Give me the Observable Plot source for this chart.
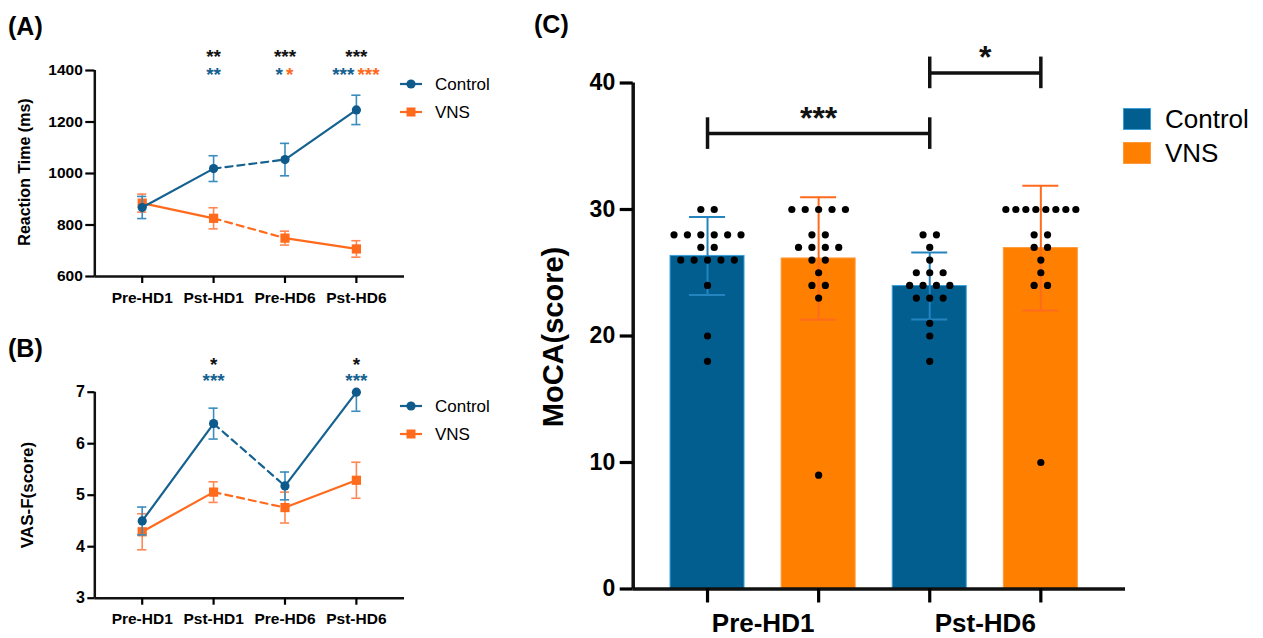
<!DOCTYPE html>
<html>
<head>
<meta charset="utf-8">
<script src="https://cdn.jsdelivr.net/npm/d3@7"></script>
<script src="https://cdn.jsdelivr.net/npm/@observablehq/plot@0.6"></script>
<style>
  html, body { margin: 0; padding: 0; background: #fff; }
  #root { position: relative; width: 1263px; height: 638px; overflow: hidden; background: #fff;
          font-family: "Liberation Sans", Arial, Helvetica, sans-serif; color: #000; }
  #root svg { overflow: visible; }
</style>
</head>
<body>
<div id="root"></div>
<script>
// ---------------- data ----------------
const timepoints = ["Pre-HD1", "Pst-HD1", "Pre-HD6", "Pst-HD6"];
const groups = ["Control", "VNS"];

// (A) Reaction time (ms), mean and error
const rtControl = [868, 1019, 1054, 1247];
const rtControlErr = [43, 50, 63, 57];
const rtVNS = [885, 826, 749, 707];
const rtVNSErr = [35, 41, 27, 32];
const rtTicks = [600, 800, 1000, 1200, 1400];
const rtStarsAll = ["", "**", "***", "***"];
const rtStarsControl = ["", "**", "*", "***"];
const rtStarsVNS = ["", "", "*", "***"];

// (B) VAS-F score, mean and error
const vasControl = [4.50, 6.39, 5.18, 7.00];
const vasControlErr = [0.27, 0.30, 0.27, 0.37];
const vasVNS = [4.29, 5.06, 4.76, 5.29];
const vasVNSErr = [0.35, 0.20, 0.30, 0.35];
const vasTicks = [3, 4, 5, 6, 7];
const vasStarsAll = ["", "*", "", "*"];
const vasStarsControl = ["", "***", "", "***"];
const vasStarsVNS = ["", "", "", ""];

// (C) MoCA score
const mocaTimepoints = ["Pre-HD1", "Pst-HD6"];
const mocaBarGroup = ["Control", "VNS", "Control", "VNS"];
const mocaMean = [26.33, 26.13, 23.95, 26.95];
const mocaSD = [3.08, 4.84, 2.65, 4.93];
const mocaPreControl = [30, 30, 28, 28, 28, 28, 28, 28, 27, 27, 26, 26, 26, 26, 26, 24, 20, 18];
const mocaPreVNS = [30, 30, 30, 30, 30, 28, 28, 27, 27, 27, 27, 26, 26, 25, 24, 24, 23, 9];
const mocaPstControl = [28, 28, 27, 26, 25, 25, 25, 24, 24, 24, 24, 23, 23, 23, 21, 20, 18];
const mocaPstVNS = [30, 30, 30, 30, 30, 30, 30, 30, 28, 28, 27, 27, 26, 25, 24, 24, 10];
const mocaTicks = [0, 10, 20, 30, 40];
const bracketFrom = [0, 2];
const bracketTo = [2, 3];
const bracketLevel = [36, 40.8];
const bracketLabel = ["***", "*"];

// ---------------- styles ----------------
const FONT = '"Liberation Sans", Arial, Helvetica, sans-serif';
const lineColor = { Control: "#15618f", VNS: "#ff6a1c" };
const markColor = { Control: "#0d5a8b", VNS: "#ff6a1c" };
const errColor = { Control: "#3b8dbd", VNS: "#ff8753" };
const barFill = { Control: "#035e90", VNS: "#ff7f00" };
const barEdge = { Control: "#3aa0dc", VNS: "#ff9a3c" };
const barErr = { Control: "#2484c0", VNS: "#ff6a1c" };
const intFmt = d3.format("d");

const root = document.getElementById("root");
function place(el, left, top) {
  el.style.position = "absolute";
  el.style.left = left + "px";
  el.style.top = top + "px";
  root.appendChild(el);
  return el;
}
function label(text, x, y, { size = 16, weight = "normal", anchor = "start", rotate = false, color = "#000" } = {}) {
  const d = document.createElement("div");
  d.textContent = text;
  d.style.fontFamily = FONT;
  d.style.fontSize = size + "px";
  d.style.fontWeight = weight;
  d.style.lineHeight = "1";
  d.style.whiteSpace = "nowrap";
  d.style.color = color;
  let tx = anchor === "middle" ? "-50%" : anchor === "end" ? "-100%" : "0";
  d.style.transform = rotate ? "translate(-50%,-50%) rotate(-90deg)" : `translate(${tx},-50%)`;
  return place(d, x, y);
}

// ---------------- line panels (A, B) ----------------
function lineChart(cfg) {
  const { ctrl, ctrlErr, vns, vnsErr, ticks, starsAll, starsCtrl, starsVNS,
          height, marginTop, marginBottom, dyAll, dySub, ytickSize, ytickPadding } = cfg;
  const width = 520, marginLeft = 94.3, marginRight = 116;
  const xDomain = [-0.664, 3.674];
  const ppu = (width - marginLeft - marginRight) / (xDomain[1] - xDomain[0]);
  const cap = 4.6 / ppu;
  const yMax = ticks[ticks.length - 1];
  const series = [{ g: "Control", v: ctrl, e: ctrlErr }, { g: "VNS", v: vns, e: vnsErr }];
  const pts = series.flatMap(s => s.v.map((v, i) => ({
    g: s.g, i, v, lo: v - s.e[i], hi: Math.min(v + s.e[i], yMax), capHi: v + s.e[i] <= yMax
  })));
  const segs = series.flatMap(s => [0, 1, 2].flatMap(k => [k, k + 1].map(i => ({
    g: s.g, key: s.g + k, dashed: k === 1, i, v: s.v[i]
  }))));
  const stars = [];
  timepoints.forEach((t, i) => {
    if (starsAll[i]) stars.push({ i, text: starsAll[i], row: "all", color: "#111", anchor: "middle" });
    const both = starsCtrl[i] && starsVNS[i];
    if (starsCtrl[i]) stars.push({ i, text: starsCtrl[i], row: "sub", color: lineColor.Control, anchor: both ? "end" : "middle" });
    if (starsVNS[i]) stars.push({ i, text: starsVNS[i], row: "sub", color: lineColor.VNS, anchor: both ? "start" : "middle" });
  });
  const marks = [];
  for (const g of ["VNS", "Control"]) {
    const P = pts.filter(d => d.g === g);
    marks.push(Plot.ruleX(P, { x: "i", y1: "lo", y2: "hi", stroke: errColor[g], strokeWidth: 1.6 }));
    marks.push(Plot.ruleY(P, { y: "lo", x1: d => d.i - cap, x2: d => d.i + cap, stroke: errColor[g], strokeWidth: 1.6 }));
    marks.push(Plot.ruleY(P.filter(d => d.capHi), { y: "hi", x1: d => d.i - cap, x2: d => d.i + cap, stroke: errColor[g], strokeWidth: 1.6 }));
    marks.push(Plot.line(segs.filter(d => d.g === g && !d.dashed), { x: "i", y: "v", z: "key", stroke: lineColor[g], strokeWidth: 2.2 }));
    marks.push(Plot.line(segs.filter(d => d.g === g && d.dashed), { x: "i", y: "v", z: "key", stroke: lineColor[g], strokeWidth: 2.2, strokeDasharray: "7,5" }));
    marks.push(Plot.dot(P, { x: "i", y: "v", symbol: g === "Control" ? "circle" : "square", r: g === "Control" ? 4.6 : 5.2, fill: markColor[g], stroke: "none" }));
  }
  const combos = [["all", "#111", "middle"], ["sub", lineColor.Control, "middle"], ["sub", lineColor.Control, "end"],
                  ["sub", lineColor.VNS, "start"], ["sub", lineColor.VNS, "middle"]];
  for (const [row, color, anchor] of combos) {
    const S = stars.filter(s => s.row === row && s.color === color && s.anchor === anchor);
    if (!S.length) continue;
    marks.push(Plot.text(S, {
      x: "i", text: "text", frameAnchor: "top", textAnchor: anchor, fill: color,
      dy: row === "all" ? dyAll : dySub, dx: anchor === "end" ? -2 : anchor === "start" ? 1 : 0,
      fontSize: 19, fontWeight: "bold", fontFamily: FONT
    }));
  }
  marks.push(Plot.ruleX([xDomain[0]], { stroke: "#111", strokeWidth: 2.5 }));
  marks.push(Plot.ruleY([ticks[0]], { stroke: "#111", strokeWidth: 2.5 }));
  marks.push(Plot.axisY({ ticks, tickFormat: intFmt, tickSize: ytickSize, tickPadding: ytickPadding, strokeWidth: 2.2, label: null,
                          fontSize: cfg.yFont, fontWeight: "bold", fontFamily: FONT }));
  marks.push(Plot.axisX({ ticks: [0, 1, 2, 3], tickFormat: i => timepoints[i], tickSize: 7, tickPadding: 8, strokeWidth: 2.2,
                          label: null, fontSize: 15.5, fontWeight: "bold", fontFamily: FONT }));
  return Plot.plot({
    width, height, marginLeft, marginRight, marginTop, marginBottom,
    style: { fontFamily: FONT, fontSize: "15px", fontWeight: "bold", color: "#000", background: "transparent", overflow: "visible" },
    x: { domain: xDomain },
    y: { domain: [ticks[0], yMax] },
    marks
  });
}

const plotA = lineChart({
  ctrl: rtControl, ctrlErr: rtControlErr, vns: rtVNS, vnsErr: rtVNSErr, ticks: rtTicks,
  starsAll: rtStarsAll, starsCtrl: rtStarsControl, starsVNS: rtStarsVNS,
  height: 310, marginTop: 70, marginBottom: 34, dyAll: -21, dySub: -3, ytickSize: 9, ytickPadding: 3, yFont: 15.5
});
place(plotA, 0, 0);

const plotB = lineChart({
  ctrl: vasControl, ctrlErr: vasControlErr, vns: vasVNS, vnsErr: vasVNSErr, ticks: vasTicks,
  starsAll: vasStarsAll, starsCtrl: vasStarsControl, starsVNS: vasStarsVNS,
  height: 328, marginTop: 81.7, marginBottom: 40.3, dyAll: -34.5, dySub: -18.5, ytickSize: 7, ytickPadding: 3, yFont: 16
});
place(plotB, 0, 310);

// ---------------- bar panel (C) ----------------
(function () {
  const width = 743, height = 638, marginLeft = 112.7, marginRight = 138, marginTop = 82.5, marginBottom = 49.5;
  const xDomain = [-0.669, 3.762];
  const ppu = (width - marginLeft - marginRight) / (xDomain[1] - xDomain[0]);
  const half = 37 / ppu;
  const cap = 18 / ppu;
  const bars = mocaMean.map((m, i) => ({ i, g: mocaBarGroup[i], mean: m, lo: m - mocaSD[i], hi: m + mocaSD[i] }));
  const scores = [mocaPreControl, mocaPreVNS, mocaPstControl, mocaPstVNS];
  const dots = [];
  scores.forEach((vals, b) => {
    const counts = d3.rollup(vals, v => v.length, v => v);
    for (const [v, n] of counts) {
      const sp = Math.min(13.4, 70 / Math.max(1, n - 1)) / ppu;
      for (let k = 0; k < n; k++) dots.push({ b, v, x: b + (k - (n - 1) / 2) * sp });
    }
  });
  const brackets = bracketLabel.map((t, k) => ({ x1: bracketFrom[k], x2: bracketTo[k], y: bracketLevel[k], text: t, mid: (bracketFrom[k] + bracketTo[k]) / 2 }));
  const ends = brackets.flatMap(b => [b.x1, b.x2].map(x => ({ x, y: b.y })));
  const marks = [];
  for (const g of groups) {
    const B = bars.filter(d => d.g === g);
    marks.push(Plot.rect(B, { x1: d => d.i - half, x2: d => d.i + half, y1: 0, y2: "mean", fill: barFill[g], stroke: barEdge[g], strokeWidth: 1 }));
  }
  for (const g of groups) {
    const B = bars.filter(d => d.g === g);
    marks.push(Plot.ruleX(B, { x: "i", y1: "lo", y2: "hi", stroke: barErr[g], strokeWidth: 2 }));
    marks.push(Plot.ruleY(B, { y: "lo", x1: d => d.i - cap, x2: d => d.i + cap, stroke: barErr[g], strokeWidth: 2 }));
    marks.push(Plot.ruleY(B, { y: "hi", x1: d => d.i - cap, x2: d => d.i + cap, stroke: barErr[g], strokeWidth: 2 }));
  }
  marks.push(Plot.dot(dots, { x: "x", y: "v", r: 3.6, fill: "#000", stroke: "none" }));
  marks.push(Plot.ruleY(brackets, { y: "y", x1: "x1", x2: "x2", stroke: "#111", strokeWidth: 3.5 }));
  marks.push(Plot.ruleX(ends, { x: "x", y1: d => d.y - 1.25, y2: d => d.y + 1.25, stroke: "#111", strokeWidth: 3.5 }));
  marks.push(Plot.text(brackets, { x: "mid", y: "y", text: "text", dy: -15, fontSize: 32, fontWeight: "bold", fill: "#111", fontFamily: FONT }));
  marks.push(Plot.ruleX([xDomain[0]], { stroke: "#111", strokeWidth: 3.5 }));
  marks.push(Plot.ruleY([0], { stroke: "#111", strokeWidth: 3.5 }));
  marks.push(Plot.axisY({ ticks: mocaTicks, tickFormat: intFmt, tickSize: 13, tickPadding: 5, strokeWidth: 3.2, label: null,
                          fontSize: 23, fontWeight: "bold", fontFamily: FONT }));
  marks.push(Plot.axisX({ ticks: [0, 1, 2, 3], tickSize: 14, tickFormat: () => "", strokeWidth: 3.2, label: null }));
  marks.push(Plot.axisX({ ticks: mocaTimepoints.map((t, k) => k * 2 + 0.5), tickSize: 0, tickPadding: 24.5,
                          tickFormat: d => mocaTimepoints[(d - 0.5) / 2], label: null,
                          fontSize: 26, fontWeight: "bold", fontFamily: FONT }));
  const plotC = Plot.plot({
    width, height, marginLeft, marginRight, marginTop, marginBottom,
    style: { fontFamily: FONT, fontSize: "23px", fontWeight: "bold", color: "#000", background: "transparent", overflow: "visible" },
    x: { domain: xDomain },
    y: { domain: [0, 40] },
    marks
  });
  place(plotC, 520, 0);
})();

// ---------------- labels and legends ----------------
label("(A)", 8, 26, { size: 25, weight: "bold" });
label("(B)", 8, 348, { size: 25, weight: "bold" });
label("(C)", 534, 24, { size: 25, weight: "bold" });
label("Reaction Time (ms)", 25, 172, { size: 16, weight: "bold", rotate: true });
label("VAS-F(score)", 27, 495, { size: 17, weight: "bold", rotate: true });
label("MoCA(score)", 553, 337, { size: 29, weight: "bold", rotate: true });

function lineLegend(yCenters) {
  groups.forEach((g, k) => {
    const y = yCenters[k];
    const ns = "http://www.w3.org/2000/svg";
    const svg = document.createElementNS(ns, "svg");
    svg.setAttribute("width", 24); svg.setAttribute("height", 14);
    const ln = document.createElementNS(ns, "line");
    ln.setAttribute("x1", 0); ln.setAttribute("x2", 22); ln.setAttribute("y1", 7); ln.setAttribute("y2", 7);
    ln.setAttribute("stroke", lineColor[g]); ln.setAttribute("stroke-width", 2.2);
    svg.appendChild(ln);
    if (g === "Control") {
      const c = document.createElementNS(ns, "circle");
      c.setAttribute("cx", 11); c.setAttribute("cy", 7); c.setAttribute("r", 4.6); c.setAttribute("fill", markColor[g]);
      svg.appendChild(c);
    } else {
      const r = document.createElementNS(ns, "rect");
      r.setAttribute("x", 6.5); r.setAttribute("y", 2.5); r.setAttribute("width", 9); r.setAttribute("height", 9); r.setAttribute("fill", markColor[g]);
      svg.appendChild(r);
    }
    place(svg, 400, y - 7);
    label(g, 435, y, { size: 17 });
  });
}
lineLegend([84, 112]);
lineLegend([406, 434]);

groups.forEach((g, k) => {
  const y = [119, 153][k];
  const sw = document.createElement("div");
  sw.style.width = "26px"; sw.style.height = "20px";
  sw.style.background = barFill[g];
  sw.style.border = "1px solid " + barEdge[g];
  place(sw, 1123, y - 11);
  label(g, 1165, y, { size: 26 });
});
</script>
</body>
</html>
